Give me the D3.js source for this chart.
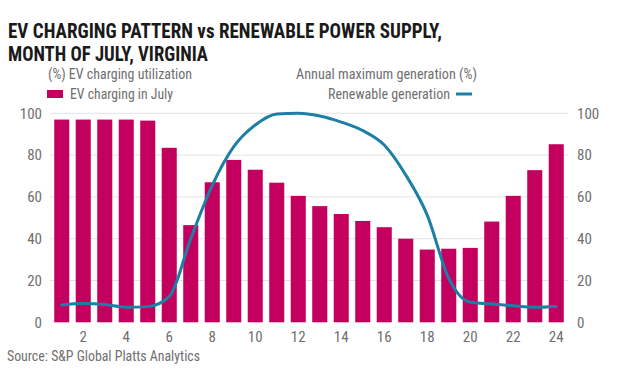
<!DOCTYPE html>
<html><head><meta charset="utf-8">
<script src="https://cdn.jsdelivr.net/npm/d3@7"></script>
<style>
body{margin:0;background:#fff;}
text{font-family:"Liberation Sans Narrow","Roboto Condensed","Liberation Sans",sans-serif;}
</style></head>
<body><svg id="c" width="624" height="376"></svg>
<script>
const hours = d3.range(1, 25);
const evCharging = [97, 97, 97, 97, 96.5, 83.5, 46.5, 67, 77.7, 73, 66.8, 60.5, 55.6, 51.8, 48.5, 45.5, 40, 34.8, 35.2, 35.6, 48.2, 60.5, 72.8, 85.2];
const renewable = [8.3, 9, 8.5, 7.2, 7.5, 12.3, 40, 65.5, 84, 94.4, 99.7, 100, 98.7, 95.8, 91.7, 84.8, 70.5, 51.3, 21, 9.6, 8.8, 7.9, 7.2, 7.6];
const yTicks = [0, 20, 40, 60, 80, 100];
const xTicks = [2, 4, 6, 8, 10, 12, 14, 16, 18, 20, 22, 24];
const titleLines = ["EV CHARGING PATTERN vs RENEWABLE POWER SUPPLY,", "MONTH OF JULY, VIRGINIA"];

const svg = d3.select("#c");
const m = {l: 51, r: 567, t: 113.3, b: 322.3};
const x = d3.scaleBand().domain(hours).range([m.l, m.r]).paddingInner(0.3).paddingOuter(0.15);
const y = d3.scaleLinear().domain([0, 100]).range([m.b, m.t]);
const barColor = "#c4005f", lineColor = "#1c7fa6", grey = "#6f6f6f";

// title
svg.append("text").attr("x", 8).attr("y", 38).attr("font-size", 21).attr("font-weight", "bold").attr("fill", "#1a1a1a")
  .attr("textLength", 434).attr("lengthAdjust", "spacingAndGlyphs").text(titleLines[0]);
svg.append("text").attr("x", 8).attr("y", 61).attr("font-size", 21).attr("font-weight", "bold").attr("fill", "#1a1a1a")
  .attr("textLength", 200).attr("lengthAdjust", "spacingAndGlyphs").text(titleLines[1]);

// legend
svg.append("text").attr("x", 48).attr("y", 79).attr("font-size", 14.5).attr("fill", grey)
  .attr("textLength", 144).attr("lengthAdjust", "spacingAndGlyphs").text("(%) EV charging utilization");
svg.append("rect").attr("x", 47).attr("y", 90).attr("width", 16).attr("height", 8).attr("fill", barColor);
svg.append("text").attr("x", 70).attr("y", 99).attr("font-size", 14.5).attr("fill", grey)
  .attr("textLength", 103).attr("lengthAdjust", "spacingAndGlyphs").text("EV charging in July");
svg.append("text").attr("x", 296).attr("y", 79).attr("font-size", 14.5).attr("fill", grey)
  .attr("textLength", 181).attr("lengthAdjust", "spacingAndGlyphs").text("Annual maximum generation (%)");
svg.append("text").attr("x", 328).attr("y", 99).attr("font-size", 14.5).attr("fill", grey)
  .attr("textLength", 122).attr("lengthAdjust", "spacingAndGlyphs").text("Renewable generation");
svg.append("line").attr("x1", 456).attr("x2", 472).attr("y1", 94).attr("y2", 94).attr("stroke", lineColor).attr("stroke-width", 3);

// grid
svg.append("g").selectAll("line").data(yTicks.filter(d => d > 0)).join("line")
  .attr("x1", 50).attr("x2", 568).attr("y1", d => y(d)).attr("y2", d => y(d))
  .attr("stroke", "#e3e3e3").attr("stroke-width", 1);

// axes
const left = svg.append("g").attr("transform", `translate(50,0)`)
  .call(d3.axisLeft(y).tickValues(yTicks).tickSize(0).tickPadding(8));
const right = svg.append("g").attr("transform", `translate(568,0)`)
  .call(d3.axisRight(y).tickValues(yTicks).tickSize(0).tickPadding(9));
const bottom = svg.append("g").attr("transform", `translate(0,${m.b})`)
  .call(d3.axisBottom(x).tickValues(xTicks).tickSize(0).tickPadding(9));
[left, right, bottom].forEach(g => {
  g.select(".domain").remove();
  g.selectAll("text").attr("fill", grey).attr("font-size", 15)
   .attr("font-family", "\"Liberation Sans Narrow\",\"Liberation Sans\",sans-serif");
});

// bars
svg.append("g").selectAll("rect").data(hours).join("rect")
  .attr("x", d => x(d)).attr("width", x.bandwidth())
  .attr("y", (d, i) => y(evCharging[i])).attr("height", (d, i) => y(0) - y(evCharging[i]))
  .attr("fill", barColor);

// line
const line = d3.line().x((d, i) => x(hours[i]) + x.bandwidth() / 2).y(d => y(d)).curve(d3.curveMonotoneX);
svg.append("path").datum(renewable).attr("d", line).attr("fill", "none")
  .attr("stroke", lineColor).attr("stroke-width", 3).attr("stroke-linejoin", "round").attr("stroke-linecap", "round");

// source
svg.append("text").attr("x", 7).attr("y", 361).attr("font-size", 14.5).attr("fill", grey)
  .attr("textLength", 193).attr("lengthAdjust", "spacingAndGlyphs").text("Source: S&P Global Platts Analytics");
</script></body></html>
